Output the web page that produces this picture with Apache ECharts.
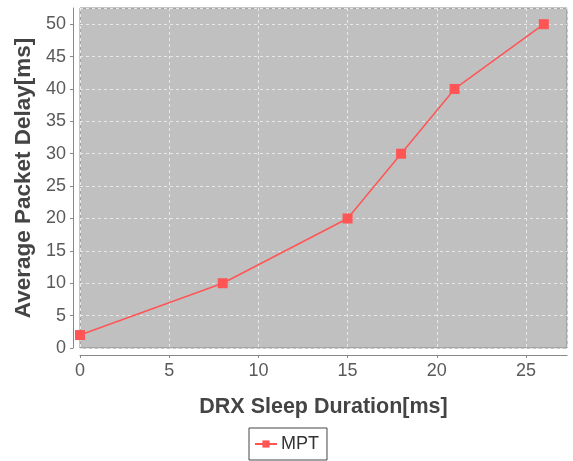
<!DOCTYPE html>
<html><head><meta charset="utf-8">
<script src="https://cdn.jsdelivr.net/npm/echarts@6/dist/echarts.min.js"></script>
<style>html,body{margin:0;padding:0;background:#fff}#c{width:573px;height:461px}</style>
</head><body><div id="c"></div>
<script>
const xValues = [0, 8, 15, 18, 21, 26];
const yValues = [2, 10, 20, 30, 40, 50];
const seriesName = 'MPT';
const xTitle = 'DRX Sleep Duration[ms]';
const yTitle = 'Average Packet Delay[ms]';

const chart = echarts.init(document.getElementById('c'));
chart.setOption({
  backgroundColor: '#ffffff',
  animation: false,
  grid: {left: 80, right: 6, top: 8, bottom: 113, show: true, backgroundColor: '#c0c0c0', borderColor: '#8a8a8a', borderWidth: 1},
  legend: {
    bottom: 1, left: 'center', itemWidth: 22, itemHeight: 9, itemGap: 4,
    borderColor: '#444', borderWidth: 1, borderRadius: 0, padding: [7, 8, 7, 5],
    textStyle: {fontFamily: 'Liberation Sans', fontSize: 18, color: '#333', padding: [0, 0, 0, -1]},
    data: [seriesName]
  },
  xAxis: {
    type: 'value', min: 0, max: 27.3, interval: 5, offset: 7,
    name: xTitle, nameLocation: 'middle', nameGap: 41,
    nameTextStyle: {fontFamily: 'Liberation Sans', fontSize: 21.5, fontWeight: 'bold', color: '#444'},
    axisLine: {show: true, onZero: false, lineStyle: {color: '#888'}},
    axisTick: {show: true, length: 3, lineStyle: {color: '#888'}},
    axisLabel: {fontFamily: 'Liberation Sans', fontSize: 18, color: '#5a5a5a', margin: 7, showMaxLabel: false},
    splitLine: {show: true, lineStyle: {color: '#e8e8e8', type: [3, 3], width: 1}}
  },
  yAxis: {
    type: 'value', min: 0, max: 52.5, interval: 5, offset: 7,
    name: yTitle, nameLocation: 'middle', nameGap: 30, nameRotate: 90,
    nameTextStyle: {fontFamily: 'Liberation Sans', fontSize: 22.5, fontWeight: 'bold', color: '#444'},
    axisLine: {show: true, onZero: false, lineStyle: {color: '#888'}},
    axisTick: {show: true, length: 3, lineStyle: {color: '#888'}},
    axisLabel: {fontFamily: 'Liberation Sans', fontSize: 18, color: '#5a5a5a', margin: 7, showMaxLabel: false},
    splitLine: {show: true, lineStyle: {color: '#e8e8e8', type: [3, 3], width: 1}}
  },
  series: [{
    name: seriesName, type: 'line',
    data: xValues.map((x, i) => [x, yValues[i]]),
    symbol: 'rect', symbolSize: 10, showSymbol: true,
    itemStyle: {color: '#ff5555'},
    lineStyle: {color: '#ff5555', width: 1.5}
  }]
});
</script></body></html>
